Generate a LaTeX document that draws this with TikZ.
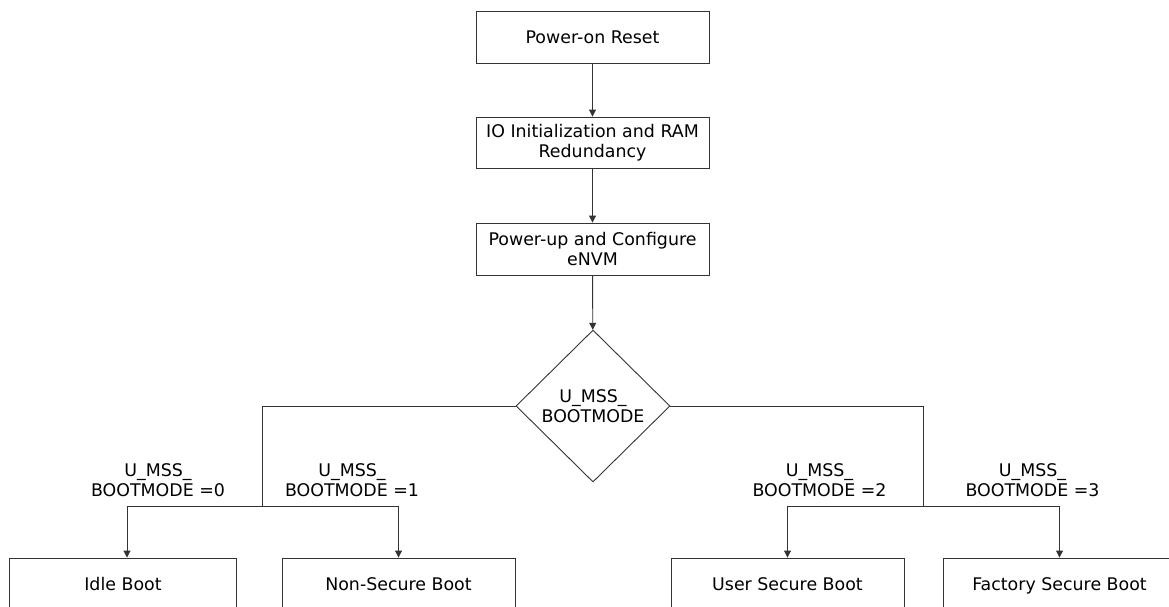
\documentclass[tikz,border=0pt]{standalone}
\usepackage{fontspec}
\setmainfont{DejaVu Sans}
\usetikzlibrary{arrows.meta,shapes.geometric}
\begin{document}
\begin{tikzpicture}[x=1pt,y=-1pt,
  every node/.style={font=\fontsize{17.4}{20}\selectfont, align=center, text=black},
  procbox/.style={draw=black!80, line width=0.9pt, rectangle, inner sep=0pt, minimum width=233pt, minimum height=52pt},
  oneline/.style={text height=13pt, text depth=0pt},
  decision/.style={draw=black!80, line width=0.9pt, diamond, aspect=1, inner sep=0pt, minimum width=154pt, minimum height=152pt},
  conn/.style={draw=black!80, line width=0.9pt},
  arr/.style={conn, -{Triangle[length=7pt,width=7pt]}},
  lbl/.style={inner sep=0pt}
]
\useasboundingbox (0,0) rectangle (1169,606);
\begin{scope}
\clip (0,0) rectangle (1169,606);
\node[procbox, oneline] (reset) at (592.5,37) {Power-on Reset};
\node[procbox, minimum height=51pt] (io) at (592.5,142.5) {IO Initialization and RAM\\Redundancy};
\node[procbox] (envm) at (592.5,249) {Power-up and Configure\\eNVM};
\node[decision] (dia) at (593,406) {U\_MSS\_\\BOOTMODE};

\node[procbox, oneline, minimum width=227pt] (idle) at (123,584) {Idle Boot};
\node[procbox, oneline] (nonsec) at (398.5,584) {Non-Secure Boot};
\node[procbox, oneline] (user) at (787.5,584) {User Secure Boot};
\node[procbox, oneline] (fact) at (1059.5,584) {Factory Secure Boot};

\coordinate (jl) at (262.5,506);
\coordinate (jr) at (923,506);

\draw[arr] (reset) -- (io);
\draw[arr] (io) -- (envm);
\draw[arr] (envm) -- (dia);

\draw[conn] (dia.west) -| (jl);
\draw[conn] (dia.east) -| (jr);
\draw[arr] (jl) -| ([xshift=4pt]idle.north);
\draw[arr] (jl) -| (nonsec.north);
\draw[arr] (jr) -| (user.north);
\draw[arr] (jr) -| (fact.north);

\node[lbl] (l0) at (158,480) {U\_MSS\_\\BOOTMODE =0};
\node[lbl] (l1) at (352,480) {U\_MSS\_\\BOOTMODE =1};
\node[lbl] (l2) at (819.5,480) {U\_MSS\_\\BOOTMODE =2};
\node[lbl] (l3) at (1032.5,480) {U\_MSS\_\\BOOTMODE =3};
\end{scope}
\end{tikzpicture}
\end{document}
